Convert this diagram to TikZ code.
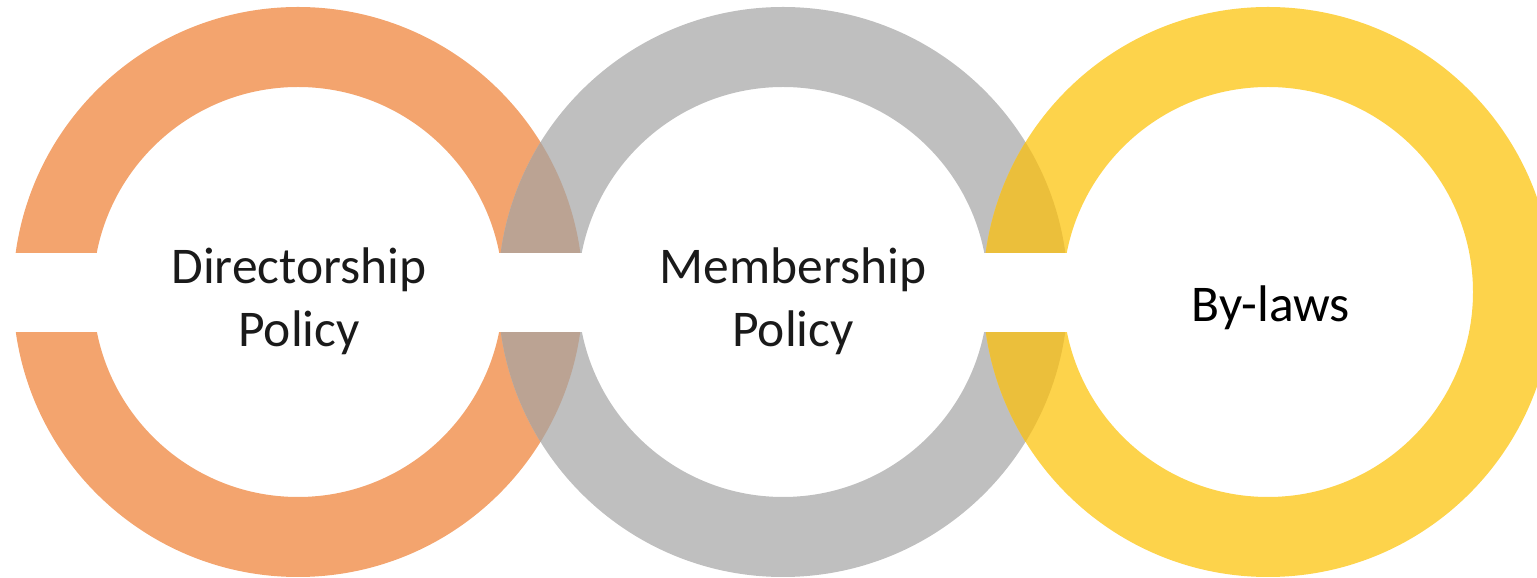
\documentclass[tikz,border=0pt]{standalone}
\usepackage{fontspec}
\setmainfont{Carlito}
\definecolor{orng}{HTML}{F3A46E}
\definecolor{gry}{HTML}{BFBFBF}
\definecolor{ylw}{HTML}{FDD34B}
\definecolor{ovOG}{HTML}{BBA393}
\definecolor{ovGY}{HTML}{EBBF3B}
\definecolor{txt}{HTML}{1A1A1A}
\tikzset{
  ringfill/.style={fill=#1, even odd rule},
  label/.style={font=\fontsize{51.5}{62}\selectfont, text=txt, anchor=base, inner sep=0pt},
}
\begin{document}
\begin{tikzpicture}[x=1pt,y=1pt]
\useasboundingbox (0,0) rectangle (1537,578);
\coordinate (c1) at (298,286);
\coordinate (c2) at (783,286);
\coordinate (c3) at (1268,286);
\begin{scope}
  \clip (0,0) rectangle (1537,578);
  \path[ringfill=orng] (c1) circle[radius=285] (c1) circle[radius=205];
  \path[ringfill=gry] (c2) circle[radius=285] (c2) circle[radius=205];
  \path[ringfill=ylw] (c3) circle[radius=285] (c3) circle[radius=205];
  \begin{scope}[even odd rule]
    \clip (c1) circle[radius=285] (c1) circle[radius=205];
    \path[ringfill=ovOG] (c2) circle[radius=285] (c2) circle[radius=205];
  \end{scope}
  \begin{scope}[even odd rule]
    \clip (c2) circle[radius=285] (c2) circle[radius=205];
    \path[ringfill=ovGY] (c3) circle[radius=285] (c3) circle[radius=205];
  \end{scope}
  \fill[white] (0,246) rectangle (1268,325);
\end{scope}
\node[label] (d1) at (299,294) {Directorship};
\node[label] (d2) at (299,231) {Policy};
\node[label] (m1) at (793,294) {Membership};
\node[label] (m2) at (793,231) {Policy};
\node[label, text=black] (b1) at (1271,256) {By-laws};
\end{tikzpicture}
\end{document}
